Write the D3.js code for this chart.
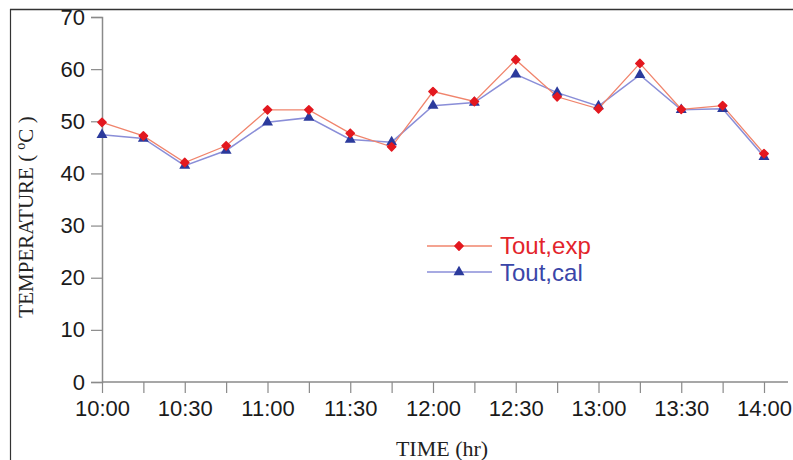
<!DOCTYPE html>
<html><head><meta charset="utf-8">
<script src="https://cdn.jsdelivr.net/npm/d3@7"></script>
<style>body{margin:0;background:#fff;} svg{display:block;}</style>
</head><body>
<svg id="c" width="793" height="460"></svg>
<script>
const times = ["10:00","10:15","10:30","10:45","11:00","11:15","11:30","11:45","12:00","12:15","12:30","12:45","13:00","13:15","13:30","13:45","14:00"];
const toutExp = [49.8,47.2,42.1,45.3,52.2,52.2,47.7,45.1,55.7,53.8,61.8,54.7,52.4,61.1,52.3,53.0,43.8];
const toutCal = [47.4,46.7,41.5,44.4,49.8,50.7,46.5,46.0,53.0,53.6,59.0,55.5,52.9,58.9,52.2,52.4,43.2];
const yTicks = [0,10,20,30,40,50,60,70];
const xLabels = ["10:00","10:30","11:00","11:30","12:00","12:30","13:00","13:30","14:00"];
const seriesNames = ["Tout,exp","Tout,cal"];

const mins = t => { const [h,m] = t.split(":").map(Number); return (h-10)*60+m; };
const svg = d3.select("#c");
const x = d3.scaleLinear().domain([0,240]).range([102,764]);
const y = d3.scaleLinear().domain([0,70]).range([382,17]);

// frame (top & left edges)
svg.append("line").attr("x1",10).attr("x2",793).attr("y1",9.5).attr("y2",9.5).attr("stroke","#333").attr("stroke-width",1.5);
svg.append("line").attr("x1",10.5).attr("x2",10.5).attr("y1",9).attr("y2",460).attr("stroke","#333").attr("stroke-width",1.2);

const axisColor = "#8a8a8a";
// y axis
const yAxis = d3.axisLeft(y).tickValues(yTicks).tickSize(11).tickPadding(6).tickFormat(d3.format("d"));
const gy = svg.append("g").attr("transform","translate(102,0)").call(yAxis);
gy.select(".domain").attr("stroke",axisColor).attr("stroke-width",1.5);
gy.selectAll(".tick line").attr("stroke",axisColor).attr("stroke-width",1.2);
gy.selectAll("text").attr("font-family","Liberation Sans, Arial, sans-serif").attr("font-size",22).attr("fill","#1a1a1a");

// x axis
const xAxis = d3.axisBottom(x).tickValues(times.map(mins)).tickSize(11).tickPadding(7)
  .tickFormat(v => { const t = times.find(s => mins(s)===v); return xLabels.includes(t) ? t : ""; });
const gx = svg.append("g").attr("transform","translate(0,382)").call(xAxis);
gx.select(".domain").remove();
svg.append("line").attr("x1",102).attr("x2",788).attr("y1",382).attr("y2",382).attr("stroke",axisColor).attr("stroke-width",1.5);
gx.selectAll(".tick line").attr("stroke",axisColor).attr("stroke-width",1.2);
gx.selectAll("text").attr("font-family","Liberation Sans, Arial, sans-serif").attr("font-size",22).attr("fill","#1a1a1a");

// titles
svg.append("text").attr("x",442).attr("y",456).attr("text-anchor","middle")
  .attr("font-family","Liberation Serif, Times New Roman, serif").attr("font-size",22).attr("fill","#222").text("TIME (hr)");
const yt = svg.append("text").attr("transform","translate(33,217) rotate(-90)").attr("text-anchor","middle")
  .attr("font-family","Liberation Serif, Times New Roman, serif").attr("font-size",21).attr("fill","#222");
yt.append("tspan").text("TEMPERATURE ( ");
yt.append("tspan").attr("font-size",14).attr("dy",-8).text("o");
yt.append("tspan").attr("dy",8).text("C )");

// series
const expLine = "#f0846c", expMark = "#e3181f";
const calLine = "#8a8ed8", calMark = "#2b3a9c";
const line = d3.line().x((d,i)=>x(mins(times[i]))).y(d=>y(d));
svg.append("path").datum(toutCal).attr("d",line).attr("fill","none").attr("stroke",calLine).attr("stroke-width",1.5);
svg.append("path").datum(toutExp).attr("d",line).attr("fill","none").attr("stroke",expLine).attr("stroke-width",1.3);

const diamond = d3.symbol().type(d3.symbolSquare).size(34);
const tri = d3.symbol().type(d3.symbolTriangle).size(52);
svg.selectAll(".cal").data(toutCal).join("path").attr("class","cal")
  .attr("d",tri).attr("transform",(d,i)=>`translate(${x(mins(times[i]))},${y(d)})`).attr("fill",calMark);
svg.selectAll(".exp").data(toutExp).join("path").attr("class","exp")
  .attr("d",diamond).attr("transform",(d,i)=>`translate(${x(mins(times[i]))},${y(d)}) rotate(45)`).attr("fill",expMark)
  .attr("stroke",expMark).attr("stroke-width",1.5).attr("stroke-linejoin","round");

// legend
const lg = svg.append("g");
const legendItems = [
  {name:seriesNames[0], line:expLine, mark:expMark, sym:diamond, rot:45, sw:1.5, ly:246, ty:254, tc:"#e3242b"},
  {name:seriesNames[1], line:calLine, mark:calMark, sym:tri, rot:0, sw:0, ly:272, ty:281, tc:"#3a46a8"}
];
legendItems.forEach(it => {
  lg.append("line").attr("x1",427).attr("x2",492).attr("y1",it.ly).attr("y2",it.ly).attr("stroke",it.line).attr("stroke-width",1.3);
  lg.append("path").attr("d",it.sym).attr("transform",`translate(459,${it.ly}) rotate(${it.rot})`).attr("fill",it.mark)
    .attr("stroke",it.sw ? it.mark : "none").attr("stroke-width",it.sw).attr("stroke-linejoin","round");
  lg.append("text").attr("x",500).attr("y",it.ty).attr("font-family","Liberation Sans, Arial, sans-serif")
    .attr("font-size",24).attr("fill",it.tc).text(it.name);
});
</script>
</body></html>
